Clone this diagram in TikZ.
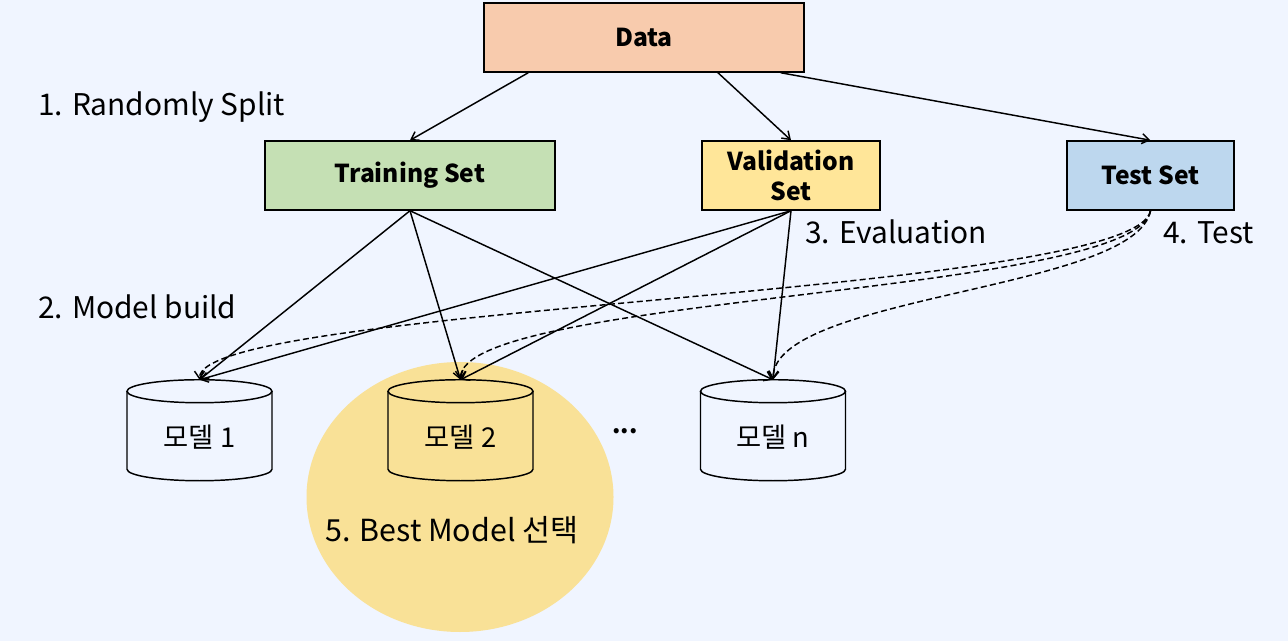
\documentclass[tikz,border=0pt]{standalone}
\usepackage{fontspec}
\setmainfont{Noto Sans CJK KR}
\usetikzlibrary{arrows.meta,calc,shapes.geometric}
\definecolor{bg}{HTML}{F0F5FF}
\definecolor{datac}{HTML}{F8CBAD}
\definecolor{trainc}{HTML}{C5E0B4}
\definecolor{valc}{HTML}{FFE699}
\definecolor{testc}{HTML}{BDD7EE}
\definecolor{circc}{HTML}{F9E197}
\newcommand\drawcyl[1]{%
  \draw[cylline] ($(#1.north)+(-72.5,11.5)$) -- ($(#1.north)+(-72.5,89.5)$)
     arc[start angle=180,end angle=360,x radius=54.375pt,y radius=8.625pt]
     -- ($(#1.north)+(72.5,11.5)$);
  \draw[cylline] ($(#1.north)+(0,11.5)$) ellipse[x radius=54.375pt, y radius=8.625pt];
}
\begin{document}
\begin{tikzpicture}[x=0.75pt,y=-0.75pt,
  box/.style={draw=black, line width=1.1pt, inner sep=0pt, minimum height=51.75pt,
     font=\fontsize{18.5}{24}\selectfont\bfseries, align=center},
  lbl/.style={inner sep=0pt, anchor=base west, font=\fontsize{22.4}{26}\selectfont},
  model/.style={inner sep=0pt, minimum width=108.75pt, minimum height=85.5pt,
     font=\fontsize{20.5}{24}\selectfont},
  cylline/.style={line width=1.1pt, draw=black},
  arr/.style={line width=1.1pt, -{Straight Barb[length=5.5pt,width=7.5pt]}},
  darr/.style={arr, dash pattern=on 4.5pt off 2.5pt}
]
\fill[bg] (0,0) rectangle (1288,641);
\useasboundingbox (0,0) rectangle (1288,641);

% best-model highlight
\node[ellipse, fill=circc, draw=none, minimum width=230.25pt, minimum height=202.5pt, inner sep=0pt] (best) at (460,497) {};

% boxes
\node[box, fill=datac, minimum width=240pt] (data) at (644,37.5) {Data};
\node[box, fill=trainc, minimum width=217.5pt] (train) at (410,175.5) {Training Set};
\node[box, fill=valc, minimum width=133.5pt] (val) at (791,175.5) {Validation\\[-1pt]Set};
\node[box, fill=testc, minimum width=125.25pt] (test) at (1150.5,175.5) {Test Set};

% models
\node[model] (m1) at (199.5,437) {모델 1};
\node[model] (m2) at (460.5,437) {모델 2};
\node[model] (mn) at (773,437) {모델 n};
\drawcyl{m1}
\drawcyl{m2}
\drawcyl{mn}
\node[inner sep=0pt, font=\fontsize{18}{20}\selectfont\bfseries] (dots) at (625,431) {...};

% labels
\node[lbl] (l1) at (38,116) {1. Randomly Split};
\node[lbl] (l2) at (38,319) {2. Model build};
\node[lbl] (l3) at (805,244) {3. Evaluation};
\node[lbl] (l4) at (1163,244) {4. Test};
\node[lbl, font=\fontsize{22.8}{28}\selectfont] (l5) at (325,541) {5. Best Model 선택};

% split arrows
\draw[arr] ($(data.south west)!0.14!(data.south east)$) -- (train.north);
\draw[arr] ($(data.south west)!0.73!(data.south east)$) -- (val.north);
\draw[arr] ($(data.south west)!0.925!(data.south east)$) -- (test.north);

% build
\draw[arr] (train.south) -- (m1.north);
\draw[arr] (train.south) -- (m2.north);
\draw[arr] (train.south) -- (mn.north);
% evaluation
\draw[arr] (val.south) -- (m1.north);
\draw[arr] (val.south) -- (m2.north);
\draw[arr] (val.south) -- (mn.north);
% test
\draw[darr] (test.south) .. controls +(-15,85) and +(0,-75) .. (m1.north);
\draw[darr] (test.south) .. controls +(-15,85) and +(0,-85) .. (m2.north);
\draw[darr] (test.south) .. controls +(-15,80) and +(0,-85) .. (mn.north);
\end{tikzpicture}
\end{document}
